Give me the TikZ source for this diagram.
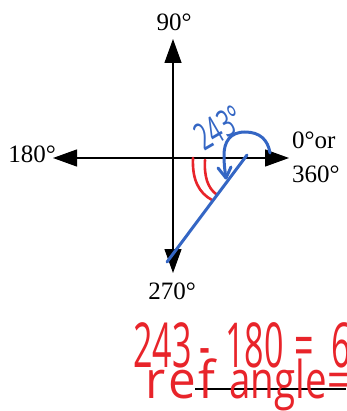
\documentclass[tikz,border=0pt]{standalone}
\usepackage{fontspec}
\usepackage{graphicx}
\setmainfont{Liberation Serif}
\newfontfamily\hand{Open Sans}
\usetikzlibrary{arrows.meta}
\definecolor{penblue}{RGB}{52,102,196}
\definecolor{penred}{RGB}{232,36,42}
\begin{document}
\begin{tikzpicture}[x=1pt,y=-1pt,
  axis/.style={line width=1.3pt,-{Triangle[length=24pt,width=17pt]}},
  deg/.style={font=\fontsize{25}{34}\selectfont, inner sep=0pt},
  bluepen/.style={penblue, line width=3pt, line cap=round, line join=round},
  redpen/.style={penred, line width=2.6pt, line cap=round},
  redtext/.style={penred, inner sep=0pt, font=\hand\fontsize{62}{62}\selectfont},
  ]
\useasboundingbox (0,0) rectangle (346,411);
\clip (0,0) rectangle (346,411);
% axes
\coordinate (O) at (173,158);
\coordinate (N) at (173,39);
\coordinate (S) at (173,273);
\coordinate (W) at (53,158);
\coordinate (E) at (289,158);
\draw[axis] (O) -- (N);
\draw[axis] (O) -- (S);
\draw[axis] (O) -- (W);
\draw[axis] (O) -- (E);
% labels
\node[deg] (l90) at (174,22) {90°};
\node[deg] (l180) at (32,154) {180°};
\node[deg] (l270) at (172,291) {270°};
\node[deg, anchor=west, align=left] (l0) at (292,157) {0°or\\360°};
% red reference-angle arcs
\coordinate (ra1) at (193,158);
\coordinate (rb1) at (212,200);
\coordinate (ra2) at (205,160);
\coordinate (rb2) at (216,194);
\draw[redpen] (ra1) .. controls (192,180) and (199,193) .. (rb1);
\draw[redpen] (ra2) .. controls (204,177) and (208,188) .. (rb2);
% blue terminal side
\coordinate (t1) at (247,155);
\coordinate (t2) at (167,262);
\draw[bluepen] (t1) -- (t2);
% blue curl with arrow
\coordinate (c0) at (270,153);
\coordinate (c1) at (245,132);
\coordinate (c2) at (224,155);
\coordinate (ct) at (226,178);
\draw[bluepen] (c0) .. controls (268,140) and (260,132) .. (c1)
  .. controls (230,132) and (224,142) .. (c2)
  .. controls (224,165) and (225,172) .. (ct);
\coordinate (h1) at (218,168);
\coordinate (h2) at (231,167);
\draw[bluepen] (h1) -- (ct) -- (h2);
\node[penblue, inner sep=0pt, font=\hand\fontsize{38}{38}\selectfont, rotate=30, xscale=0.6] (a243) at (219,128) {243°};
% red handwritten work
\node[redtext, anchor=base west, xscale=0.55] (eq) at (133,367) {243\kern15pt-\kern26pt180\kern20pt=\kern31pt6};
\coordinate (u1) at (195,389);
\coordinate (u2) at (346,389);
\draw[line width=2.2pt] (u1) -- (u2);
\node[redtext, anchor=base west, font=\hand\fontsize{52}{52}\selectfont] (ref) at (145,398) {\scalebox{0.95}[1]{r\kern3pt e\kern3pt f}\kern14pt\scalebox{0.74}[1]{angle}\kern1pt\scalebox{0.75}[1]{=}};
\end{tikzpicture}
\end{document}
